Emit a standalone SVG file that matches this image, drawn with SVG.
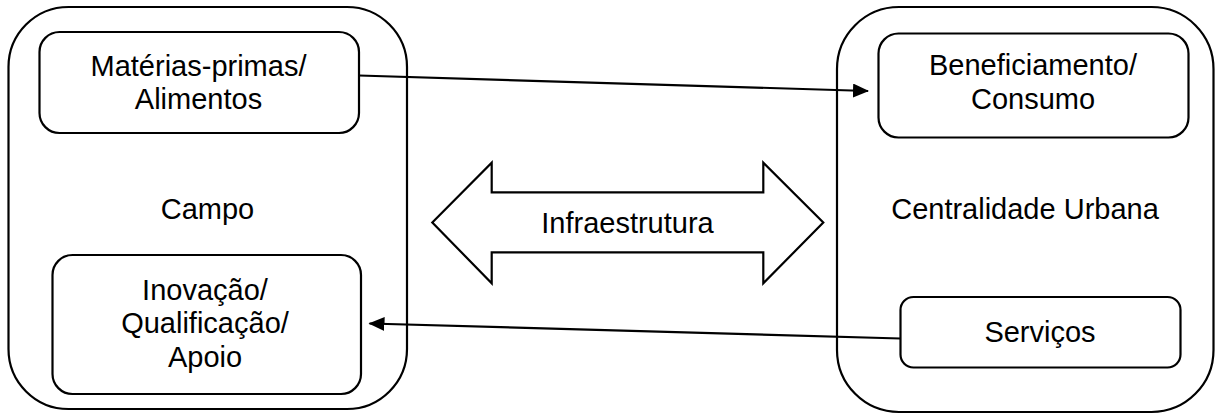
<svg xmlns="http://www.w3.org/2000/svg" width="1215" height="414" viewBox="0 0 1215 414">
<style>
  .box{fill:#fff;stroke:#000;stroke-width:2.2}
  .lbl{font-family:"Liberation Sans",Arial,sans-serif;font-size:29px;fill:#000;text-anchor:middle}
  .con{fill:none;stroke:#000;stroke-width:2.2}
</style>
<defs>
  <marker id="ah" markerWidth="16" markerHeight="14" refX="15" refY="7" orient="auto" markerUnits="userSpaceOnUse">
    <path d="M0,0 L16,7 L0,14 Z" fill="#000"/>
  </marker>
</defs>
<rect width="1215" height="414" fill="#fff"/>
<g id="campo">
  <rect class="box" x="8.5" y="7" width="398.5" height="402" rx="60" ry="60"/>
  <text class="lbl" x="207.5" y="218.5">Campo</text>
</g>
<g id="centralidade">
  <rect class="box" x="837" y="7" width="376.5" height="405" rx="62" ry="62"/>
  <text class="lbl" x="1025" y="218.5">Centralidade Urbana</text>
</g>
<g id="materias">
  <rect class="box" x="39.5" y="32" width="319.5" height="101" rx="20" ry="20"/>
  <text class="lbl" x="198.5" y="76">Matérias-primas/</text>
  <text class="lbl" x="198.5" y="109">Alimentos</text>
</g>
<g id="inovacao">
  <rect class="box" x="52.5" y="255" width="308.5" height="139" rx="20" ry="20"/>
  <text class="lbl" x="205" y="300">Inovação/</text>
  <text class="lbl" x="205" y="333.3">Qualificação/</text>
  <text class="lbl" x="205" y="366.7">Apoio</text>
</g>
<g id="beneficiamento">
  <rect class="box" x="878.5" y="33.5" width="310" height="104" rx="20" ry="20"/>
  <text class="lbl" x="1033" y="75">Beneficiamento/</text>
  <text class="lbl" x="1033" y="109.3">Consumo</text>
</g>
<g id="servicos">
  <rect class="box" x="900.5" y="297" width="280" height="70.5" rx="13" ry="13"/>
  <text class="lbl" x="1040" y="342">Serviços</text>
</g>
<g id="infraestrutura">
  <path class="box" d="M432.3,222.5 L491.7,162.7 L491.7,192.3 L763.3,192.3 L763.3,162.7 L823.3,222.5 L763.3,283.3 L763.3,252.3 L491.7,252.3 L491.7,283.3 Z"/>
  <text class="lbl" x="627.5" y="233">Infraestrutura</text>
</g>
<g id="connectors">
  <line class="con" x1="359" y1="75.5" x2="868" y2="91" marker-end="url(#ah)"/>
  <line class="con" x1="900.5" y1="338.5" x2="369.5" y2="323.5" marker-end="url(#ah)"/>
</g>
</svg>
